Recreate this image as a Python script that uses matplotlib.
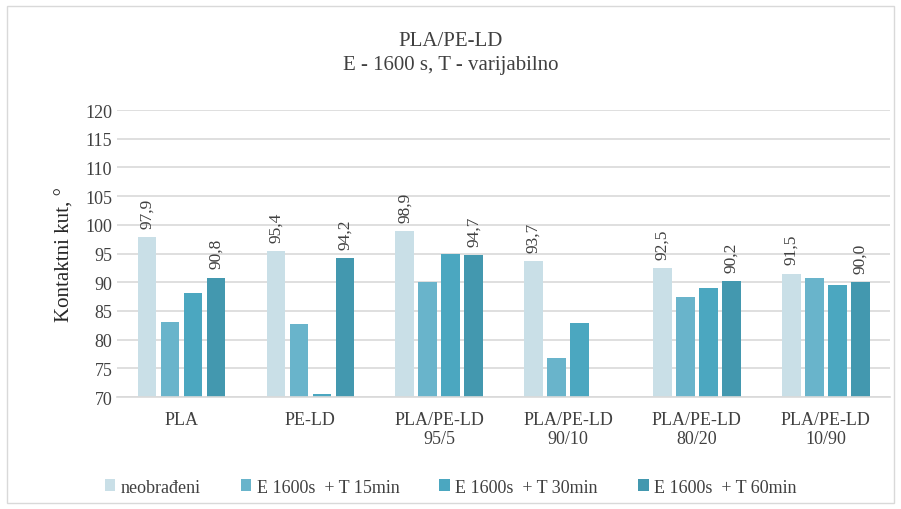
import numpy as np
import matplotlib.pyplot as plt
from matplotlib.patches import Rectangle

plt.rcParams['font.family'] = ['Liberation Serif', 'DejaVu Serif']

categories = ['PLA', 'PE-LD', 'PLA/PE-LD\n95/5', 'PLA/PE-LD\n90/10', 'PLA/PE-LD\n80/20', 'PLA/PE-LD\n10/90']
series_names = ['neobrađeni', 'E 1600s  + T 15min', 'E 1600s  + T 30min', 'E 1600s  + T 60min']
neobradeni = [97.9, 95.4, 98.9, 93.7, 92.5, 91.5]
t15 = [83.0, 82.8, 90.0, 76.8, 87.5, 90.8]
t30 = [88.1, 70.5, 94.9, 82.9, 89.0, 89.5]
t60 = [90.8, 94.2, 94.7, np.nan, 90.2, 90.0]
colors = ['#C9DFE7', '#69B4CB', '#4BA7C0', '#4398AF']

data = [neobradeni, t15, t30, t60]
labelled = [0, 3]

fig = plt.figure(figsize=(9.01, 5.10), dpi=100)
ax = fig.add_axes([0.130, 0.2196, 0.858, 0.5627])

x = np.arange(len(categories))
pitch = 0.1786
width = 0.145
for i, (vals, c) in enumerate(zip(data, colors)):
    pos = x + (i - 1.5) * pitch
    vals = np.array(vals, dtype=float)
    ax.bar(pos, vals - 70, bottom=70, width=width, color=c, label=series_names[i], zorder=2)
    if i in labelled:
        for p, v in zip(pos, vals):
            if np.isnan(v):
                continue
            ax.text(p, v + 1.6, f'{v:.1f}'.replace('.', ','), rotation=90, ha='center', va='bottom',
                    fontsize=12.5, color='#404040')

ax.set_ylim(70, 120)
ax.set_xlim(-0.5, len(categories) - 0.5)
ax.set_yticks(np.arange(70, 121, 5))
ax.set_xticks(x)
ax.set_xticklabels(categories)
ax.tick_params(axis='both', length=0, labelsize=13, colors='#404040')
ax.tick_params(axis='x', pad=10)
ax.yaxis.grid(True, color='#D9D9D9', linewidth=1.2, zorder=0)
ax.set_axisbelow(True)
for s in ['top', 'right', 'left']:
    ax.spines[s].set_visible(False)
ax.spines['bottom'].set_color('#D9D9D9')
ax.spines['bottom'].set_linewidth(1.2)

ax.set_ylabel('Kontaktni kut, °', fontsize=15, color='#262626', labelpad=8)
fig.text(0.5, 0.895, 'PLA/PE-LD\nE - 1600 s, T - varijabilno', ha='center', va='center',
         fontsize=15, color='#404040', linespacing=1.3)

fig.legend(loc='center', bbox_to_anchor=(0.5, 0.043), ncol=4, frameon=False, fontsize=13,
           handlelength=0.6, handleheight=0.6, handletextpad=0.3, columnspacing=2.2,
           labelcolor='#404040')

fig.patches.append(Rectangle((0.008, 0.012), 0.984, 0.975, transform=fig.transFigure,
                             fill=False, edgecolor='#D9D9D9', linewidth=1))

fig.savefig('out.png', dpi=100)
